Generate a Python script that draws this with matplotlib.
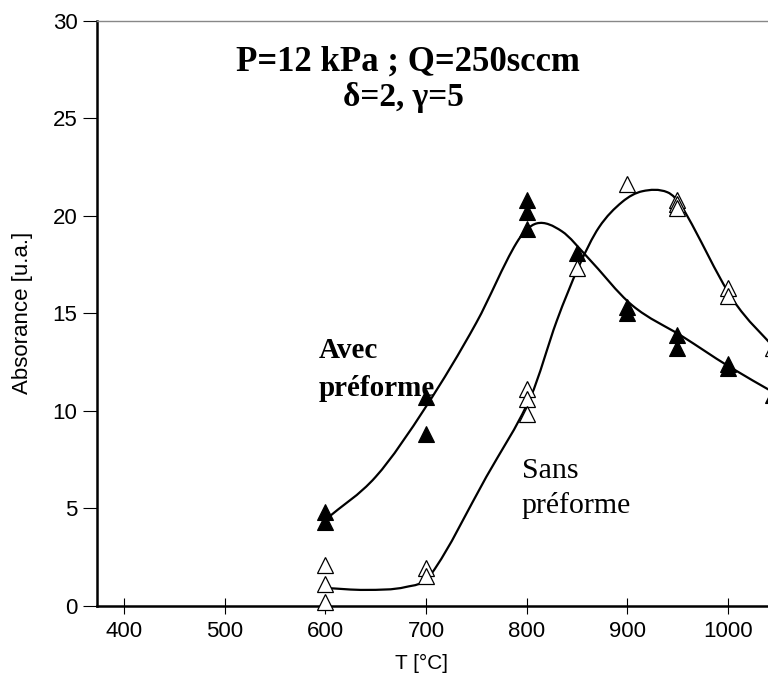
import matplotlib
matplotlib.use("Agg")
import matplotlib.pyplot as plt
from matplotlib.path import Path
from matplotlib.patches import PathPatch

# measured points
t_avec = [600, 600, 700, 700, 800, 800, 800, 850, 900, 900, 950, 950, 1000, 1000, 1045]
a_avec = [4.8, 4.3, 10.7, 8.8, 20.8, 20.2, 19.3, 18.1, 15.3, 15.0, 13.9, 13.2, 12.4, 12.2, 10.8]
t_sans = [600, 600, 600, 700, 700, 800, 800, 800, 850, 900, 950, 950, 950, 1000, 1000, 1045]
a_sans = [2.1, 1.1, 0.2, 1.9, 1.5, 11.1, 10.6, 9.8, 17.3, 21.6, 20.8, 20.6, 20.4, 16.3, 15.9, 13.2]

# smooth guide curves (knots)
curve_avec_t = [600, 650, 700, 750, 790, 810, 835, 860, 905, 955, 1000, 1050]
curve_avec_a = [4.4, 6.6, 10.2, 14.5, 18.6, 19.6, 19.2, 17.9, 15.4, 13.8, 12.3, 10.8]
curve_sans_t = [600, 640, 680, 705, 760, 804, 830, 852, 872, 895, 915, 940, 955, 1005, 1050]
curve_sans_a = [0.9, 0.8, 0.95, 1.6, 6.6, 10.7, 14.6, 17.4, 19.4, 20.7, 21.25, 21.2, 20.4, 15.7, 13.0]

xticks = [400, 500, 600, 700, 800, 900, 1000]
yticks = [0, 5, 10, 15, 20, 25, 30]


def smooth_path(xs, ys):
    # cubic hermite through the knots, written as bezier segments
    n = len(xs)
    m = []
    for i in range(n):
        a = max(i - 1, 0)
        b = min(i + 1, n - 1)
        m.append((ys[b] - ys[a]) / (xs[b] - xs[a]))
    verts = [(xs[0], ys[0])]
    codes = [Path.MOVETO]
    for i in range(n - 1):
        h = (xs[i + 1] - xs[i]) / 3
        verts += [(xs[i] + h, ys[i] + m[i] * h),
                  (xs[i + 1] - h, ys[i + 1] - m[i + 1] * h),
                  (xs[i + 1], ys[i + 1])]
        codes += [Path.CURVE4] * 3
    return Path(verts, codes)


fig = plt.figure(figsize=(7.68, 6.75), dpi=100)
ax = fig.add_axes([97 / 768, 1 - 605.5 / 675, 1 - 97 / 768, (605.5 - 20.7) / 675])

for xs, ys in [(curve_avec_t, curve_avec_a), (curve_sans_t, curve_sans_a)]:
    ax.add_patch(PathPatch(smooth_path(xs, ys), facecolor="none", edgecolor="black", lw=1.6, zorder=2))

ax.plot(t_avec, a_avec, "^", ms=11, color="black", mec="black", mew=0.8, zorder=3, clip_on=False)
ax.plot(t_sans, a_sans, "^", ms=11, color="white", mec="black", mew=0.9, zorder=3, clip_on=False)

ax.set_xlim(373, 1040)
ax.set_ylim(0, 30)
ax.set_xticks(xticks)
ax.set_yticks(yticks)

ax.spines["right"].set_visible(False)
ax.spines["top"].set_color("#888888")
ax.spines["top"].set_linewidth(1.0)
ax.spines["left"].set_linewidth(1.8)
ax.spines["bottom"].set_linewidth(1.8)

ax.tick_params(axis="x", direction="inout", length=11, width=0.8, labelsize=16, pad=6)
ax.tick_params(axis="y", direction="out", length=10, width=0.8, labelsize=16, pad=4)
for lab in ax.get_xticklabels() + ax.get_yticklabels():
    lab.set_fontfamily("Liberation Sans")

ax.set_xlabel("T [°C]", fontsize=15, family="Liberation Sans")
ax.xaxis.set_label_coords(0.483, -0.083)
ax.set_ylabel("Absorance [u.a.]", fontsize=16, family="Liberation Sans")
ax.yaxis.set_label_coords(-0.096, 0.5)

serif = "Liberation Serif"
ax.text(0.463, 0.929, "P=12 kPa ; Q=250sccm", transform=ax.transAxes, ha="center", va="center",
        fontsize=25, fontweight="bold", family=serif)
ax.text(0.456, 0.869, "δ=2, γ=5", transform=ax.transAxes, ha="center", va="center",
        fontsize=24, fontweight="bold", family=serif)

ax.text(593, 12.1, "Avec\npréforme", ha="left", va="center", fontsize=21, fontweight="bold",
        family=serif, linespacing=1.5)
ax.text(795, 6.0, "Sans\npréforme", ha="left", va="center", fontsize=21.5,
        family=serif, linespacing=1.42)

fig.savefig("out.png", dpi=100)
